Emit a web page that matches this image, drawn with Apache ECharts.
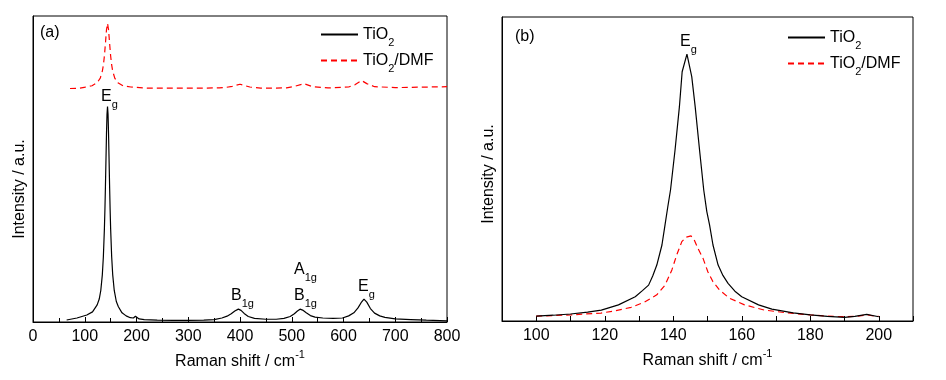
<!DOCTYPE html>
<html>
<head>
<meta charset="utf-8">
<script src="https://cdn.jsdelivr.net/npm/echarts@6/dist/echarts.min.js"></script>
<style>
html,body{margin:0;padding:0;background:#fff;}
#chart{width:946px;height:380px;}
</style>
</head>
<body>
<div id="chart"></div>
<script>
// Panel (a): full Raman spectra [shift cm-1, intensity a.u.]
const tio2A = [[65,0.65],[85,1.3],[104,2.3],[115,3.3],[124,5.6],[128,7.5],[131,10.3],[134,15.5],[136,21.4],[138,30.6],[139,36.9],[140,44.5],[141,53],[142,61.4],[143,67.9],[144,70.4],[145,67.9],[146,61.4],[147,53],[148,44.5],[149,36.9],[150,30.6],[152,21.4],[154,15.5],[157,10.3],[161,6.7],[165,5.0],[172,3.0],[180,2.0],[188,1.4],[194,1.3],[198,1.9],[201,1.5],[205,1.0],[215,0.8],[240,0.6],[270,0.5],[300,0.5],[330,0.6],[350,0.8],[365,1.3],[375,1.9],[383,2.7],[390,3.6],[396.8,4.2],[402,3.8],[408,2.8],[416,1.8],[428,1.2],[450,0.9],[470,0.9],[485,1.2],[497,1.8],[505,2.7],[511,3.6],[516,4.2],[521,3.9],[528,3.0],[536,2.1],[545,1.6],[560,1.3],[580,1.2],[598,1.3],[610,2.0],[620,3.0],[628,4.6],[634,6.3],[639.6,7.5],[645,6.5],[652,4.4],[660,2.9],[670,2.0],[680,1.5],[700,1.0],[730,0.8],[760,0.6],[800,0.4]];
const dmfA = [[71.5,76.3],[90,76.4],[99,76.7],[114,77.2],[124,78.2],[130,79.7],[134,82],[136,84],[138,87],[140,91.1],[142,95.5],[144,97.6],[146,95.5],[148,91.1],[150,87],[152,84],[154,82],[158,79.7],[164,78.2],[174,77.2],[189,76.8],[220,76.4],[300,76.4],[360,76.5],[374,76.7],[385,77.0],[400,77.7],[419,76.8],[440,76.4],[490,76.5],[505,77.0],[523.6,77.9],[540,76.9],[570,76.5],[610,76.8],[622,77.5],[635,78.9],[645,77.9],[660,76.9],[700,76.6],[800,76.9]];
// Panel (b): zoom on Eg band
const tio2B = [[100,1.6],[105,1.9],[110,2.3],[115,2.9],[119,3.6],[124,5.3],[128.9,8.0],[131,10.0],[132.8,11.8],[134,14.8],[135.2,18.4],[136.7,25],[137.6,31.6],[138.4,37.5],[139.2,43.1],[140.5,56],[141.8,70.5],[142.6,82],[144,87.8],[145.4,80.4],[146.4,70.5],[147.7,56],[148.9,43.1],[149.8,36],[150.6,31.6],[151.6,25],[153.1,18.4],[154.5,15],[156,12.4],[158,9.8],[160,8.0],[164.9,5.3],[168.8,3.9],[175,2.7],[180,2.0],[185,1.5],[190,1.2],[193,1.5],[196.5,2.2],[200,1.4]];
const dmfB = [[100,1.6],[105,1.8],[110,2.0],[114,2.3],[118.9,2.6],[122.8,3.3],[127.7,4.5],[131.6,6.2],[135.2,8.6],[137.6,11.8],[139.6,16.8],[141.0,21.7],[142.5,26.1],[143.8,27.6],[145.2,28.0],[146.2,26.5],[147.2,23.9],[148.7,20.6],[150.1,16.2],[151.6,12.9],[153.5,10.2],[156.4,7.5],[160.8,5.3],[166.6,3.6],[173,2.7],[180,2.0],[185,1.6],[190,1.4],[193,1.5],[196.5,2.0],[200,1.5]];
const seriesNames = ['TiO2','TiO2/DMF'];
const xRangeA = [0, 800, 100];
const xRangeB = [90, 210, 10];

const FONT = 'Liberation Sans, Arial, Helvetica, sans-serif';
const subRich = {
  n: {fontSize: 16, fontFamily: FONT, color: '#000'},
  s: {fontSize: 11, fontFamily: FONT, color: '#000', lineHeight: 11, padding: [16, 0, 0, 0]},
  p: {fontSize: 11, fontFamily: FONT, color: '#000', lineHeight: 11, padding: [0, 0, 12, 0]}
};
function legendFmt(name) {
  return name === 'TiO2' ? '{n|TiO}{s|2}' : '{n|TiO}{s|2}{n|/DMF}';
}
function xAxisCfg(idx, r, labelEvery) {
  return {
    type: 'value', gridIndex: idx, min: r[0], max: r[1], interval: r[2],
    axisLine: {show: true, lineStyle: {color: '#000', width: 1}},
    axisTick: {show: true, inside: true, length: 5, lineStyle: {color: '#000'}},
    minorTick: {show: idx === 0, splitNumber: 2, length: 4, lineStyle: {color: '#000'}},
    splitLine: {show: false},
    axisLabel: {
      show: true, margin: 7, fontSize: 16, fontFamily: FONT, color: '#000',
      formatter: function (v) { return (v % labelEvery === 0) ? String(v) : ''; },
      showMinLabel: true, showMaxLabel: true
    },
    name: '{n|Raman shift / cm}{p|-1}', nameLocation: 'middle', nameGap: 24,
    nameTextStyle: {rich: subRich}
  };
}
function yAxisCfg(idx, pad) {
  return {
    type: 'value', gridIndex: idx, min: 0, max: 100,
    axisLine: {show: true, lineStyle: {color: '#000', width: 1}},
    axisTick: {show: false}, axisLabel: {show: false}, splitLine: {show: false},
    name: 'Intensity / a.u.', nameLocation: 'middle', nameGap: 5,
    nameTextStyle: {fontSize: 16, fontFamily: FONT, color: '#000', padding: [0, pad, 0, 0]}
  };
}
const blackLine = {color: '#000', width: 1.2};
const redLine = {color: '#ff0000', width: 1.2, type: [6, 4]};
function lineSeries(name, data, xi, style) {
  return {
    name: name, type: 'line', xAxisIndex: xi, yAxisIndex: xi, data: data,
    symbol: 'none', showSymbol: false, lineStyle: style, itemStyle: {color: style.color},
    silent: true, animation: false, z: name === 'TiO2' ? 3 : 2
  };
}
function legendCfg(left, top) {
  return {
    orient: 'vertical', left: left, top: top, padding: 0, itemGap: -1,
    itemWidth: 37, itemHeight: 14, data: seriesNames, selectedMode: false,
    itemStyle: {opacity: 0, borderWidth: 0},
    formatter: legendFmt, textStyle: {rich: subRich, fontSize: 16, fontFamily: FONT, color: '#000'}
  };
}
function note(x, y, main, sub) {
  return {
    type: 'text', x: x, y: y, silent: true,
    style: {
      text: sub ? '{n|' + main + '}{s|' + sub + '}' : '{n|' + main + '}',
      rich: subRich, align: 'left', verticalAlign: 'middle', fill: '#000'
    }
  };
}

const chart = echarts.init(document.getElementById('chart'), null, {renderer: 'canvas'});
chart.setOption({
  backgroundColor: '#fff',
  animation: false,
  grid: [
    {left: 33, top: 16, width: 414, height: 306, show: true, borderColor: '#000', borderWidth: 1, backgroundColor: 'transparent'},
    {left: 502, top: 17, width: 411, height: 304, show: true, borderColor: '#000', borderWidth: 1, backgroundColor: 'transparent'}
  ],
  xAxis: [xAxisCfg(0, xRangeA, 100), xAxisCfg(1, xRangeB, 20)],
  yAxis: [yAxisCfg(0, 40), yAxisCfg(1, 10)],
  legend: [legendCfg(320, 21), legendCfg(787, 24)],
  series: [
    lineSeries(seriesNames[0], tio2A, 0, blackLine),
    lineSeries(seriesNames[1], dmfA, 0, redLine),
    lineSeries(seriesNames[0], tio2B, 1, blackLine),
    lineSeries(seriesNames[1], dmfB, 1, redLine)
  ],
  graphic: [
    note(40, 33, '(a)'),
    note(515, 37, '(b)'),
    note(101, 97, 'E', 'g'),
    note(231, 296, 'B', '1g'),
    note(294, 270, 'A', '1g'),
    note(294, 296, 'B', '1g'),
    note(358, 287, 'E', 'g'),
    note(680, 42, 'E', 'g')
  ]
});
</script>
</body>
</html>
